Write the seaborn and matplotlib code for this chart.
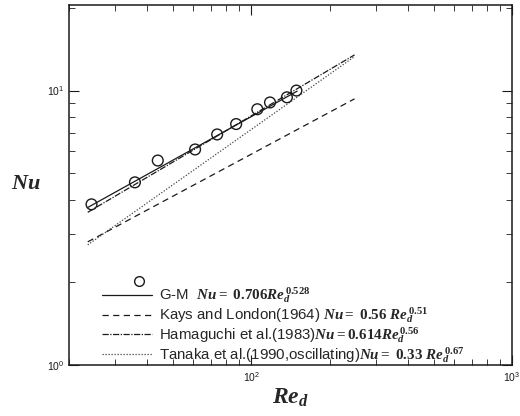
import matplotlib
matplotlib.use("Agg")
import matplotlib.pyplot as plt
import seaborn as sns
import numpy as np
from matplotlib.lines import Line2D
from matplotlib.legend_handler import HandlerBase
from matplotlib.ticker import LogLocator, NullFormatter

# ---- data ----
re_exp = [24.4, 35.8, 43.8, 60.9, 74.0, 87.5, 105.5, 118.0, 137.0, 149.0]
nu_exp = [3.85, 4.63, 5.56, 6.10, 6.92, 7.55, 8.55, 9.05, 9.45, 10.0]

re_gm = [23.6, 150.0]
nu_gm = [3.75, 9.95]
re_kays = [23.6, 249.0]
nu_kays = [2.81, 9.33]
re_hama = [23.6, 249.0]
nu_hama = [3.60, 13.49]
re_tanaka = [23.6, 249.0]
nu_tanaka = [2.74, 13.30]

labels = [
    r"G-M  $Nu{=}\ 0.706Re_d^{\,0.528}$",
    r"Kays and London(1964) $Nu{=}\ 0.56\ Re_d^{\,0.51}$",
    r"Hamaguchi et al.(1983)$Nu{=}0.614Re_d^{\,0.56}$",
    r"Tanaka et al.(1990,oscillating)$Nu{=}\ 0.33\ Re_d^{\,0.67}$",
]

sns.set_theme(style="ticks")
plt.rcParams["font.family"] = ["Liberation Sans", "DejaVu Sans"]
plt.rcParams["mathtext.fontset"] = "custom"
plt.rcParams["mathtext.rm"] = "Liberation Serif:bold"
plt.rcParams["mathtext.it"] = "Liberation Serif:italic:bold"
plt.rcParams["mathtext.bf"] = "Liberation Serif:bold"

fig = plt.figure(figsize=(5.2, 4.16), dpi=100)
ax = fig.add_axes([69/520, 1-365/416, (512-69)/520, (365-5)/416])

lw = 0.9
sns.lineplot(x=re_gm, y=nu_gm, ax=ax, color="k", lw=lw, linestyle="-")
sns.lineplot(x=re_kays, y=nu_kays, ax=ax, color="k", lw=lw, dashes=False)
ax.lines[-1].set_dashes((5, 3.5))
sns.lineplot(x=re_hama, y=nu_hama, ax=ax, color="k", lw=lw)
ax.lines[-1].set_dashes((5, 1.2, 1, 1.2))
sns.lineplot(x=re_tanaka, y=nu_tanaka, ax=ax, color="#444444", lw=lw)
ax.lines[-1].set_dashes((1, 1.4))
sns.scatterplot(x=re_exp, y=nu_exp, ax=ax, marker="o", s=60,
                facecolor="none", edgecolor="k", linewidth=1.0, zorder=5)

ax.set_xscale("log")
ax.set_yscale("log")
ax.set_xlim(20, 1000)
ax.set_ylim(1, 20.5)

for axis in (ax.xaxis, ax.yaxis):
    axis.set_major_locator(LogLocator(base=10))
    axis.set_minor_locator(LogLocator(base=10, subs=np.arange(2, 10)))
    axis.set_minor_formatter(NullFormatter())
ax.tick_params(which="both", direction="in", top=True, right=True,
               labelsize=7.5, colors="k")
ax.tick_params(which="major", length=7, width=0.8)
ax.tick_params(which="minor", length=4, width=0.6)
for s in ax.spines.values():
    s.set_linewidth(1.1)
    s.set_color("k")

ax.set_xlabel(r"$Re_d$", fontsize=17, labelpad=2)
ax.set_ylabel(r"$Nu$", fontsize=16, rotation=0, labelpad=8)
ax.yaxis.set_label_coords(-0.097, 0.475)


class HandlerMarkAbove(HandlerBase):
    def create_artists(self, legend, orig_handle, xdescent, ydescent,
                       width, height, fontsize, trans):
        y = height / 2 - ydescent
        line = Line2D([-xdescent, width - xdescent], [y, y], color="k", lw=lw)
        mk = Line2D([0.73 * width - xdescent], [y + 0.9 * fontsize],
                    marker="o", markersize=7, mfc="none", mec="k", mew=1.0,
                    ls="none")
        line.set_transform(trans)
        mk.set_transform(trans)
        return [line, mk]


h_gm = Line2D([], [], color="k", lw=lw)
h_k = Line2D([], [], color="k", lw=lw, dashes=(5, 3.5))
h_h = Line2D([], [], color="k", lw=lw, dashes=(5, 1.2, 1, 1.2))
h_t = Line2D([], [], color="#444444", lw=lw, dashes=(1, 1.4))
leg = ax.legend([h_gm, h_k, h_h, h_t], labels, loc="lower left",
                bbox_to_anchor=(0.055, -0.025), frameon=False, fontsize=10.8,
                handlelength=3.3, handletextpad=0.45, labelspacing=0.0,
                borderaxespad=0.2, handler_map={h_gm: HandlerMarkAbove()})

fig.savefig("out.png", dpi=100)
